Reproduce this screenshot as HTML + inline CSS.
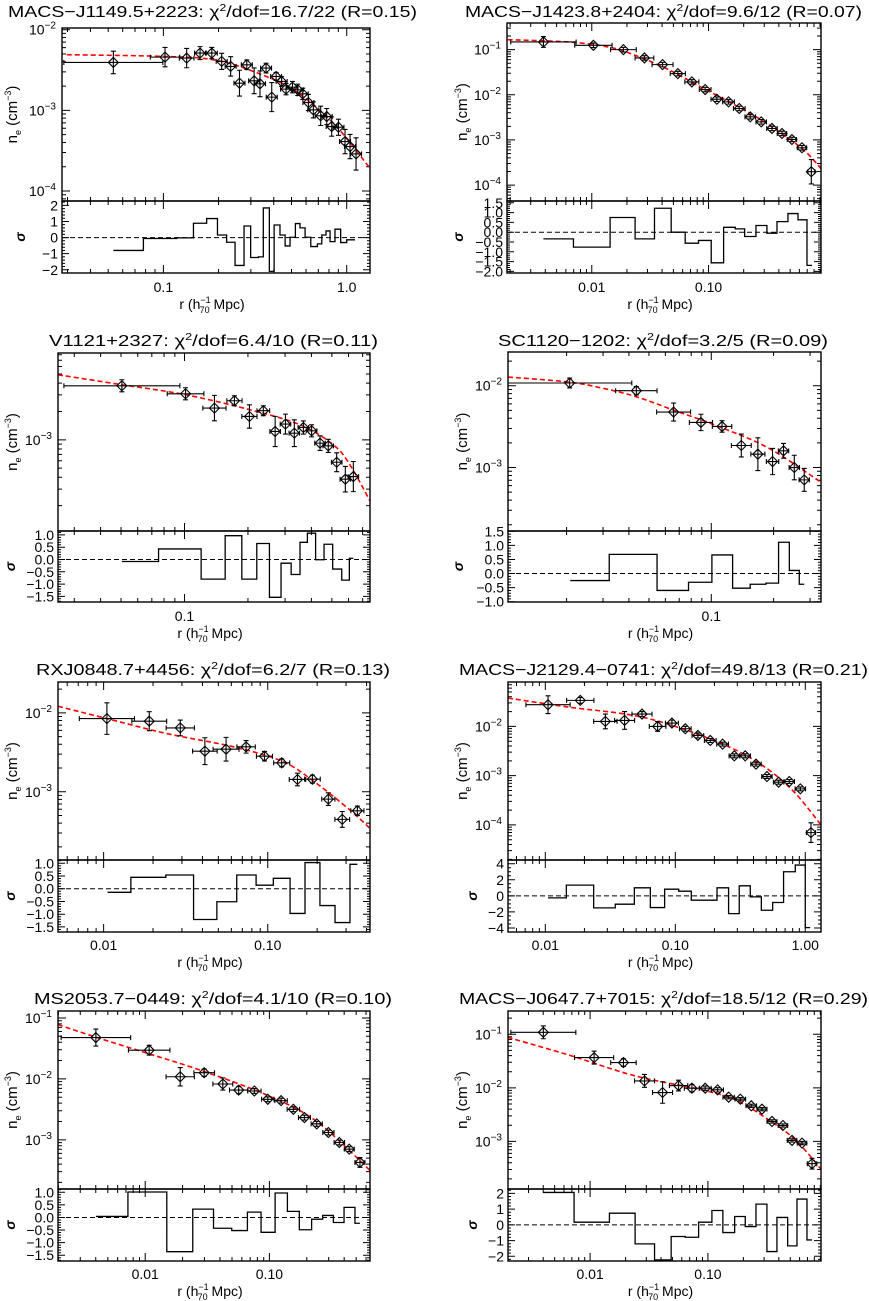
<!DOCTYPE html>
<html><head><meta charset="utf-8"><title>Density profiles</title>
<style>
html,body{margin:0;padding:0;background:#fff;}
svg{display:block;font-family:"Liberation Sans",sans-serif;}
</style></head>
<body>
<svg id="fig" width="869" height="1301" viewBox="0 0 869 1301" xmlns="http://www.w3.org/2000/svg">
<rect x="0" y="0" width="869" height="1301" fill="#fff"/>
<g font-size="16" fill="#000">
<text x="8" y="17" textLength="409" lengthAdjust="spacingAndGlyphs">MACS−J1149.5+2223: χ<tspan dy="-6" font-size="10">2</tspan><tspan dy="6">/dof=16.7/22 (R=0.15)</tspan></text>
<text x="465" y="17" textLength="397" lengthAdjust="spacingAndGlyphs">MACS−J1423.8+2404: χ<tspan dy="-6" font-size="10">2</tspan><tspan dy="6">/dof=9.6/12 (R=0.07)</tspan></text>
<text x="49" y="346" textLength="329" lengthAdjust="spacingAndGlyphs">V1121+2327: χ<tspan dy="-6" font-size="10">2</tspan><tspan dy="6">/dof=6.4/10 (R=0.11)</tspan></text>
<text x="498" y="346" textLength="330" lengthAdjust="spacingAndGlyphs">SC1120−1202: χ<tspan dy="-6" font-size="10">2</tspan><tspan dy="6">/dof=3.2/5 (R=0.09)</tspan></text>
<text x="36" y="675" textLength="354" lengthAdjust="spacingAndGlyphs">RXJ0848.7+4456: χ<tspan dy="-6" font-size="10">2</tspan><tspan dy="6">/dof=6.2/7 (R=0.13)</tspan></text>
<text x="459" y="675" textLength="409" lengthAdjust="spacingAndGlyphs">MACS−J2129.4−0741: χ<tspan dy="-6" font-size="10">2</tspan><tspan dy="6">/dof=49.8/13 (R=0.21)</tspan></text>
<text x="34" y="1004" textLength="358" lengthAdjust="spacingAndGlyphs">MS2053.7−0449: χ<tspan dy="-6" font-size="10">2</tspan><tspan dy="6">/dof=4.1/10 (R=0.10)</tspan></text>
<text x="459" y="1004" textLength="409" lengthAdjust="spacingAndGlyphs">MACS−J0647.7+7015: χ<tspan dy="-6" font-size="10">2</tspan><tspan dy="6">/dof=18.5/12 (R=0.29)</tspan></text>
</g>
</svg>
<script>
// ---------- Panel 1: MACS-J1149.5+2223 (log10 values) ----------
const p1LogR = [-1.273,-0.991,-0.873,-0.8,-0.736,-0.682,-0.633,-0.585,-0.545,-0.505,-0.473,-0.44,-0.409,-0.385,-0.355,-0.331,-0.296,-0.267,-0.24,-0.209,-0.182,-0.142,-0.109,-0.082,-0.045,-0.009,0.018,0.051];
const p1LogNe = [-2.406,-2.34,-2.352,-2.29,-2.29,-2.393,-2.455,-2.663,-2.435,-2.634,-2.671,-2.476,-2.836,-2.58,-2.642,-2.737,-2.712,-2.745,-2.795,-2.903,-2.994,-3.068,-3.077,-3.201,-3.209,-3.387,-3.449,-3.54];
const p1YErr = [0.14,0.12,0.12,0.08,0.07,0.1,0.12,0.16,0.06,0.16,0.16,0.06,0.18,0.05,0.06,0.07,0.07,0.07,0.07,0.1,0.1,0.12,0.1,0.12,0.1,0.15,0.15,0.2];
const p1XErr = [0.27,0.08,0.04,0.03,0.03,0.03,0.03,0.03,0.03,0.03,0.03,0.03,0.03,0.03,0.03,0.03,0.03,0.03,0.03,0.03,0.03,0.03,0.03,0.03,0.03,0.03,0.03,0.03];
const p1FitR = [-1.527,-1,-0.727,-0.509,-0.291,-0.073,0.127];
const p1FitNe = [-2.31,-2.331,-2.373,-2.518,-2.745,-3.159,-3.718];
const p1ResEdges = [-1.273,-1.109,-0.927,-0.836,-0.764,-0.705,-0.655,-0.609,-0.56,-0.524,-0.482,-0.455,-0.422,-0.396,-0.364,-0.336,-0.309,-0.28,-0.255,-0.227,-0.196,-0.16,-0.136,-0.113,-0.091,-0.064,-0.033,0,0.045];
const p1Sigma = [-0.8,-0.06,-0.02,0.89,1.18,0.16,-0.29,-1.73,0.72,-1.24,-1.2,1.84,-2.1,0.78,0.16,-0.52,0.02,0.87,0.6,0.02,-0.56,-0.39,0.16,0.41,-0.25,0.52,-0.31,-0.14];

// ---------- Panel 2: MACS-J1423.8+2404 ----------
const p2LogR = [-2.414,-1.986,-1.729,-1.549,-1.394,-1.263,-1.143,-1.029,-0.929,-0.829,-0.737,-0.643,-0.549,-0.457,-0.371,-0.286,-0.2,-0.12];
const p2LogNe = [-0.83,-0.904,-1.0,-1.184,-1.332,-1.531,-1.715,-1.884,-2.098,-2.157,-2.304,-2.489,-2.6,-2.746,-2.857,-2.99,-3.174,-3.704];
const p2YErr = [0.12,0.05,0.05,0.05,0.05,0.05,0.05,0.05,0.05,0.05,0.05,0.05,0.05,0.05,0.05,0.05,0.05,0.27];
const p2XErr = [0.28,0.16,0.11,0.08,0.09,0.065,0.06,0.05,0.05,0.05,0.05,0.045,0.045,0.045,0.04,0.04,0.04,0.03];
const p2FitR = [-2.72,-2.2,-1.857,-1.629,-1.343,-1.057,-0.771,-0.486,-0.2,-0.037];
const p2FitNe = [-0.779,-0.83,-0.941,-1.125,-1.442,-1.84,-2.231,-2.658,-3.189,-3.631];
const p2ResEdges = [-2.414,-2.157,-1.843,-1.629,-1.463,-1.32,-1.2,-1.086,-0.977,-0.871,-0.771,-0.691,-0.594,-0.5,-0.414,-0.32,-0.234,-0.157,-0.114];
const p2Sigma = [-0.34,-0.76,0.75,-0.34,1.22,0,-0.56,-0.42,-1.56,0.25,0.17,-0.22,0.34,-0.05,0.54,0.95,0.63,-1.69];

// ---------- Panel 3: V1121+2327 ----------
const p3LogR = [-1.297,-0.995,-0.858,-0.763,-0.692,-0.626,-0.57,-0.521,-0.479,-0.436,-0.397,-0.357,-0.318,-0.278,-0.237,-0.199];
const p3LogNe = [-2.426,-2.511,-2.663,-2.585,-2.752,-2.691,-2.911,-2.833,-2.929,-2.869,-2.904,-3.035,-3.064,-3.238,-3.418,-3.39];
const p3YErr = [0.064,0.064,0.135,0.053,0.124,0.053,0.16,0.106,0.142,0.07,0.064,0.078,0.07,0.1,0.135,0.16];
const p3XErr = [0.275,0.087,0.055,0.036,0.036,0.03,0.025,0.025,0.025,0.025,0.025,0.025,0.025,0.025,0.025,0.025];
const p3FitR = [-1.6,-1.297,-0.995,-0.689,-0.452,-0.294,-0.215,-0.12];
const p3FitNe = [-2.309,-2.415,-2.521,-2.681,-2.84,-3.053,-3.266,-3.649];
const p3ResEdges = [-1.297,-1.123,-0.921,-0.807,-0.728,-0.657,-0.597,-0.542,-0.494,-0.452,-0.417,-0.378,-0.338,-0.297,-0.254,-0.218,-0.199];
const p3Sigma = [-0.08,0.43,-0.8,0.97,-0.8,0.65,-1.54,-0.15,-0.61,0.7,1.07,-0.01,0.62,-0.39,-0.84,0.05];

// ---------- Panel 4: SC1120-1202 ----------
const p4LogR = [-1.684,-1.362,-1.182,-1.05,-0.948,-0.855,-0.775,-0.704,-0.651,-0.599,-0.551];
const p4LogNe = [-1.967,-2.061,-2.322,-2.449,-2.498,-2.731,-2.837,-2.927,-2.796,-3.0,-3.151];
const p4YErr = [0.06,0.05,0.11,0.1,0.07,0.14,0.2,0.16,0.09,0.15,0.14];
const p4XErr = [0.3,0.1,0.082,0.056,0.047,0.048,0.034,0.03,0.025,0.025,0.025];
const p4FitR = [-1.982,-1.689,-1.528,-1.367,-1.174,-0.965,-0.723,-0.47];
const p4FitNe = [-1.894,-1.955,-2.029,-2.131,-2.306,-2.498,-2.763,-3.18];
const p4ResEdges = [-1.681,-1.493,-1.262,-1.11,-0.997,-0.897,-0.812,-0.736,-0.675,-0.623,-0.575,-0.551];
const p4Sigma = [-0.25,0.68,-0.6,-0.31,0.66,-0.52,-0.38,-0.34,1.11,0.11,-0.38];

// ---------- Panel 5: RXJ0848.7+4456 ----------
const p5LogR = [-1.98,-1.722,-1.533,-1.383,-1.254,-1.132,-1.02,-0.915,-0.819,-0.728,-0.631,-0.546,-0.454];
const p5LogNe = [-2.072,-2.105,-2.19,-2.485,-2.46,-2.43,-2.549,-2.633,-2.844,-2.84,-3.093,-3.35,-3.241];
const p5YErr = [0.2,0.12,0.1,0.17,0.15,0.08,0.06,0.05,0.08,0.05,0.08,0.1,0.06];
const p5XErr = [0.168,0.106,0.086,0.075,0.079,0.056,0.049,0.049,0.05,0.048,0.04,0.045,0.04];
const p5FitR = [-2.278,-1.98,-1.615,-1.209,-0.905,-0.702,-0.499,-0.377];
const p5FitNe = [-1.916,-2.072,-2.262,-2.43,-2.62,-2.895,-3.232,-3.464];
const p5ResEdges = [-1.976,-1.834,-1.621,-1.452,-1.31,-1.189,-1.071,-0.966,-0.864,-0.773,-0.682,-0.59,-0.499,-0.454];
const p5Sigma = [-0.14,0.45,0.54,-1.21,-0.51,0.54,0.14,0.41,-0.97,1.03,-0.66,-1.33,0.96];

// ---------- Panel 6: MACS-J2129.4-0741 ----------
const p6LogR = [-1.979,-1.731,-1.538,-1.39,-1.256,-1.136,-1.026,-0.923,-0.826,-0.731,-0.636,-0.546,-0.462,-0.379,-0.295,-0.205,-0.123,-0.038,0.044];
const p6LogNe = [-1.559,-1.471,-1.898,-1.878,-1.749,-2.0,-1.932,-2.047,-2.183,-2.285,-2.359,-2.597,-2.597,-2.766,-3.017,-3.132,-3.119,-3.268,-4.156];
const p6YErr = [0.18,0.06,0.15,0.18,0.05,0.1,0.06,0.05,0.05,0.04,0.04,0.04,0.04,0.04,0.04,0.04,0.04,0.04,0.2];
const p6XErr = [0.17,0.105,0.09,0.077,0.077,0.064,0.05,0.045,0.045,0.045,0.045,0.04,0.04,0.04,0.04,0.04,0.04,0.04,0.035];
const p6FitR = [-2.287,-1.821,-1.308,-0.923,-0.538,-0.282,-0.077,0.121];
const p6FitNe = [-1.424,-1.607,-1.783,-2.068,-2.475,-2.881,-3.356,-4.0];
const p6ResEdges = [-1.979,-1.838,-1.628,-1.462,-1.315,-1.192,-1.082,-0.974,-0.877,-0.774,-0.679,-0.59,-0.508,-0.423,-0.338,-0.251,-0.167,-0.077,0,0.038];
const p6Sigma = [-0.25,1.33,-1.5,-1.04,1.0,-1.46,0.83,0.58,-0.54,-0.54,1.0,-2.21,1.25,-0.13,-1.79,-0.83,3.0,3.83,-3.96];

// ---------- Panel 7: MS2053.7-0449 ----------
const p7LogR = [-2.397,-1.968,-1.718,-1.525,-1.375,-1.247,-1.121,-1.013,-0.906,-0.807,-0.718,-0.619,-0.525,-0.437,-0.357,-0.271];
const p7LogNe = [-1.322,-1.529,-1.965,-1.899,-2.084,-2.183,-2.199,-2.335,-2.357,-2.499,-2.635,-2.738,-2.88,-3.044,-3.153,-3.371];
const p7YErr = [0.14,0.08,0.15,0.06,0.1,0.06,0.04,0.04,0.04,0.04,0.04,0.04,0.04,0.04,0.04,0.08];
const p7XErr = [0.28,0.167,0.114,0.083,0.08,0.074,0.054,0.05,0.05,0.05,0.048,0.045,0.045,0.042,0.04,0.04];
const p7FitR = [-2.702,-2.362,-1.96,-1.558,-1.021,-0.619,-0.19];
const p7FitNe = [-1.109,-1.338,-1.594,-1.856,-2.264,-2.7,-3.501];
const p7ResEdges = [-2.397,-2.139,-1.826,-1.617,-1.45,-1.303,-1.177,-1.067,-0.954,-0.855,-0.759,-0.66,-0.571,-0.485,-0.399,-0.311,-0.271];
const p7Sigma = [0.04,1.01,-1.36,0.33,-0.43,-0.52,0.21,-0.59,0.97,0.24,-0.49,-0.07,0.08,-0.2,0.4,-0.23];

// ---------- Panel 8: MACS-J0647.7+7015 ----------
const p8LogR = [-2.397,-1.966,-1.717,-1.538,-1.385,-1.249,-1.136,-1.023,-0.918,-0.824,-0.725,-0.632,-0.541,-0.456,-0.363,-0.286,-0.201,-0.116];
const p8LogNe = [-0.963,-1.435,-1.528,-1.87,-2.087,-1.957,-2.006,-2.006,-2.037,-2.174,-2.211,-2.335,-2.398,-2.627,-2.702,-2.981,-3.031,-3.416];
const p8YErr = [0.12,0.12,0.07,0.12,0.2,0.1,0.07,0.04,0.04,0.03,0.03,0.03,0.03,0.03,0.03,0.03,0.03,0.1];
const p8XErr = [0.276,0.166,0.108,0.085,0.085,0.078,0.064,0.05,0.05,0.048,0.045,0.045,0.042,0.042,0.04,0.04,0.04,0.04];
const p8FitR = [-2.7,-2.184,-1.618,-1.051,-0.768,-0.484,-0.258,-0.04];
const p8FitNe = [-1.056,-1.385,-1.776,-2.037,-2.224,-2.596,-2.969,-3.516];
const p8ResEdges = [-2.397,-2.136,-1.836,-1.618,-1.453,-1.312,-1.193,-1.079,-0.966,-0.873,-0.773,-0.683,-0.592,-0.499,-0.414,-0.323,-0.244,-0.159,-0.116];
const p8Sigma = [2.06,0.17,0.74,-1.21,-2.23,-0.74,-0.79,0.17,0.91,-0.49,0.53,-0.11,1.32,-1.7,0.47,-1.34,1.64,-0.96];

// Tick labels
const p1XTicks = [[-1,'0.1'],[0,'1.0']];
const p2XTicks = [[-2,'0.01'],[-1,'0.10']];
const p3XTicks = [[-1,'0.1']];
const p4XTicks = [[-1,'0.1']];
const p5XTicks = [[-2,'0.01'],[-1,'0.10']];
const p6XTicks = [[-2,'0.01'],[-1,'0.10'],[0,'1.00']];
const p7XTicks = [[-2,'0.01'],[-1,'0.10']];
const p8XTicks = [[-2,'0.01'],[-1,'0.10']];

const NS = 'http://www.w3.org/2000/svg';
const svg = document.getElementById('fig');

const data = [
 {r:p1LogR,n:p1LogNe,ye:p1YErr,xe:p1XErr,fr:p1FitR,fn:p1FitNe,re:p1ResEdges,s:p1Sigma,xt:p1XTicks},
 {r:p2LogR,n:p2LogNe,ye:p2YErr,xe:p2XErr,fr:p2FitR,fn:p2FitNe,re:p2ResEdges,s:p2Sigma,xt:p2XTicks},
 {r:p3LogR,n:p3LogNe,ye:p3YErr,xe:p3XErr,fr:p3FitR,fn:p3FitNe,re:p3ResEdges,s:p3Sigma,xt:p3XTicks},
 {r:p4LogR,n:p4LogNe,ye:p4YErr,xe:p4XErr,fr:p4FitR,fn:p4FitNe,re:p4ResEdges,s:p4Sigma,xt:p4XTicks},
 {r:p5LogR,n:p5LogNe,ye:p5YErr,xe:p5XErr,fr:p5FitR,fn:p5FitNe,re:p5ResEdges,s:p5Sigma,xt:p5XTicks},
 {r:p6LogR,n:p6LogNe,ye:p6YErr,xe:p6XErr,fr:p6FitR,fn:p6FitNe,re:p6ResEdges,s:p6Sigma,xt:p6XTicks},
 {r:p7LogR,n:p7LogNe,ye:p7YErr,xe:p7XErr,fr:p7FitR,fn:p7FitNe,re:p7ResEdges,s:p7Sigma,xt:p7XTicks},
 {r:p8LogR,n:p8LogNe,ye:p8YErr,xe:p8XErr,fr:p8FitR,fn:p8FitNe,re:p8ResEdges,s:p8Sigma,xt:p8XTicks}
];

const layout = [
 {L:62,R:370,T:28,M:201,B:273,xr:[-1.553,0.127],yr:[-4.124,-1.979],sr:[-2.2,2.27],yt:[-2,-3,-4],st:[2,1,0,-1,-2],dec:0,sm:0.2},
 {L:507,R:821,T:23,M:201,B:273,xr:[-2.726,-0.037],yr:[-4.353,-0.41],sr:[-2.08,1.59],yt:[-1,-2,-3,-4],st:[1.5,1,0.5,0,-0.5,-1,-1.5,-2],dec:1,sm:0.1},
 {L:58,R:370,T:353,M:531,B:602,xr:[-1.6,-0.12],yr:[-3.968,-2.078],sr:[-1.73,1.16],yt:[-3],st:[1,0.5,0,-0.5,-1,-1.5],dec:1,sm:0.1},
 {L:508,R:821,T:352,M:531,B:602,xr:[-1.982,-0.47],yr:[-3.776,-1.588],sr:[-1.01,1.51],yt:[-2,-3],st:[1.5,1,0.5,0,-0.5,-1],dec:1,sm:0.1},
 {L:58,R:370,T:682,M:860,B:932,xr:[-2.278,-0.377],yr:[-3.865,-1.608],sr:[-1.7,1.13],yt:[-2,-3],st:[1,0.5,0,-0.5,-1,-1.5],dec:1,sm:0.1},
 {L:508,R:821,T:682,M:860,B:932,xr:[-2.287,0.121],yr:[-4.712,-1.098],sr:[-4.5,4.46],yt:[-2,-3,-4],st:[4,2,0,-2,-4],dec:0,sm:0.5},
 {L:58,R:370,T:1011,M:1189,B:1261,xr:[-2.702,-0.19],yr:[-3.807,-0.886],sr:[-1.73,1.13],yt:[-1,-2,-3],st:[1,0.5,0,-0.5,-1,-1.5],dec:1,sm:0.1},
 {L:508,R:821,T:1011,M:1189,B:1261,xr:[-2.697,-0.04],yr:[-3.888,-0.565],sr:[-2.3,2.28],yt:[-1,-2,-3],st:[2,1,0,-1,-2],dec:0,sm:0.2}
];
const tickBase = [292,621,950,1279];
const labelBase = [309,638,967,1296];

function mk(tag, attrs, parent, name){
  const e = document.createElementNS(NS, tag);
  for (const k in attrs) e.setAttribute(k, attrs[k]);
  
  
  parent.appendChild(e);
  return e;
}
function tsp(parent, txt, attrs){
  const t = document.createElementNS(NS,'tspan');
  for (const k in attrs) t.setAttribute(k, attrs[k]);
  t.textContent = txt;
  parent.appendChild(t);
  return t;
}
function fmt(v, dec){
  const s = Math.abs(v).toFixed(dec);
  return (v < 0 ? '−' : '') + s;
}
function smoothPath(pts){
  let dd = `M${pts[0][0]},${pts[0][1]}`;
  for (let j = 0; j < pts.length - 1; j++) {
    const p0 = pts[Math.max(0, j-1)], p1 = pts[j], p2 = pts[j+1], p3 = pts[Math.min(pts.length-1, j+2)];
    const c1x = p1[0] + (p2[0]-p0[0])/6, c1y = p1[1] + (p2[1]-p0[1])/6;
    const c2x = p2[0] - (p3[0]-p1[0])/6, c2y = p2[1] - (p3[1]-p1[1])/6;
    dd += `C${c1x},${c1y} ${c2x},${c2y} ${p2[0]},${p2[1]}`;
  }
  return dd;
}

layout.forEach((p, i) => {
  const d = data[i];
  const row = Math.floor(i/2);
  const left = i % 2 === 0;
  const g = mk('g', {}, svg, 'panel-' + (i+1));
  const sx = v => p.L + (v - p.xr[0]) / (p.xr[1] - p.xr[0]) * (p.R - p.L);
  const sy = v => p.M - (v - p.yr[0]) / (p.yr[1] - p.yr[0]) * (p.M - p.T);
  const ss = v => p.B - (v - p.sr[0]) / (p.sr[1] - p.sr[0]) * (p.B - p.M);

  const defs = mk('defs', {}, g, 'clip-defs');
  const cp = mk('clipPath', {id:'cm'+i}, defs, 'main-clip');
  mk('rect', {x:p.L, y:p.T, width:p.R-p.L, height:p.M-p.T}, cp, 'main-clip-rect');
  const cr = mk('clipPath', {id:'cr'+i}, defs, 'resid-clip');
  mk('rect', {x:p.L, y:p.M, width:p.R-p.L, height:p.B-p.M}, cr, 'resid-clip-rect');

  const tk = mk('g', {stroke:'#000','stroke-width':1}, g, 'axis-ticks');
  let tp = '';
  for (let dec = Math.floor(p.xr[0]); dec <= Math.ceil(p.xr[1]); dec++) {
    for (let k = 1; k <= 9; k++) {
      const v = dec + Math.log10(k);
      if (v <= p.xr[0] || v >= p.xr[1]) continue;
      const x = sx(v), len = k === 1 ? 8 : 4;
      tp += `M${x},${p.T}v${len}M${x},${p.M}v${-len}M${x},${p.M}v${len}M${x},${p.B}v${-len}`;
    }
  }
  for (let dec = Math.floor(p.yr[0]); dec <= Math.ceil(p.yr[1]); dec++) {
    for (let k = 1; k <= 9; k++) {
      const v = dec + Math.log10(k);
      if (v <= p.yr[0] || v >= p.yr[1]) continue;
      const y = sy(v), len = k === 1 ? 8 : 4;
      tp += `M${p.L},${y}h${len}M${p.R},${y}h${-len}`;
    }
  }
  const step = Math.abs(p.st[0] - p.st[1]);
  for (let v = Math.ceil(p.sr[0]/p.sm)*p.sm; v <= p.sr[1]; v += p.sm) {
    const y = ss(v);
    const major = Math.abs(v/step - Math.round(v/step)) < 1e-6;
    const len = major ? 7 : 3;
    tp += `M${p.L},${y}h${len}M${p.R},${y}h${-len}`;
  }
  mk('path', {d:tp, fill:'none'}, tk, 'tick-marks');

  const fitPts = d.fr.map((v, j) => [sx(v), sy(d.fn[j])]);
  mk('path', {d:smoothPath(fitPts), fill:'none', stroke:'#f00', 'stroke-width':1.6, 'stroke-dasharray':'5,3', 'clip-path':`url(#cm${i})`}, g, 'model-fit-line');

  const pg = mk('g', {stroke:'#000', 'stroke-width':1.1, fill:'none', 'clip-path':`url(#cm${i})`}, g, 'data-points');
  d.r.forEach((v, j) => {
    const cx = sx(v), cy = sy(d.n[j]);
    const x0 = sx(v - d.xe[j]), x1 = sx(v + d.xe[j]);
    const y0 = sy(d.n[j] - d.ye[j]), y1 = sy(d.n[j] + d.ye[j]);
    const pt = mk('g', {}, pg, 'data-point');
    mk('path', {d:`M${x0},${cy}H${x1}M${x0},${cy-2.5}v5M${x1},${cy-2.5}v5M${cx},${y0}V${y1}M${cx-2.5},${y0}h5M${cx-2.5},${y1}h5`}, pt, 'error-bars');
    mk('path', {d:`M${cx-5},${cy}L${cx},${cy-5}L${cx+5},${cy}L${cx},${cy+5}Z`}, pt, 'diamond-marker');
  });

  mk('line', {x1:p.L, x2:p.R, y1:ss(0), y2:ss(0), stroke:'#000', 'stroke-width':1, 'stroke-dasharray':'5,3'}, g, 'zero-line');
  let rd = '';
  d.s.forEach((v, j) => {
    const y = ss(v);
    rd += (j ? `V${y}` : `M${sx(d.re[0])},${y}`) + `H${sx(d.re[j+1])}`;
  });
  mk('path', {d:rd, fill:'none', stroke:'#000', 'stroke-width':1.3, 'clip-path':`url(#cr${i})`}, g, 'residual-steps');

  mk('rect', {x:p.L, y:p.T, width:p.R-p.L, height:p.M-p.T, fill:'none', stroke:'#000', 'stroke-width':1.4}, g, 'main-plot-frame');
  mk('rect', {x:p.L, y:p.M, width:p.R-p.L, height:p.B-p.M, fill:'none', stroke:'#000', 'stroke-width':1.4}, g, 'residual-plot-frame');

  p.yt.forEach(e => {
    const t = mk('text', {x:p.L-6, y:sy(e)+5, 'text-anchor':'end', 'font-size':14}, g, 'y-tick-label');
    tsp(t, '10', {});
    tsp(t, '−' + Math.abs(e), {dy:-6, 'font-size':10});
  });
  p.st.forEach(v => {
    const t = mk('text', {x:p.L-4, y:ss(v)+5, 'text-anchor':'end', 'font-size':14}, g, 'sigma-tick-label');
    t.textContent = fmt(v, p.dec);
  });
  d.xt.forEach(([v, lab]) => {
    const t = mk('text', {x:sx(v), y:tickBase[row], 'text-anchor':'middle', 'font-size':14}, g, 'x-tick-label');
    t.textContent = lab;
  });
  const xl = mk('text', {x:(p.L+p.R)/2 - 4, y:labelBase[row], 'text-anchor':'middle', 'font-size':14}, g, 'x-axis-title');
  tsp(xl, 'r  (h', {});
  tsp(xl, '−1', {dy:-6, 'font-size':9});
  tsp(xl, '70', {dx:-11, dy:10, 'font-size':9});
  tsp(xl, ' Mpc)', {dy:-4});
  const yx = left ? 17 : 467, yc = (p.T + p.M) / 2;
  const yl = mk('text', {x:yx, y:yc, transform:`rotate(-90 ${yx} ${yc})`, 'text-anchor':'middle', 'font-size':15}, g, 'y-axis-title');
  tsp(yl, 'n', {});
  tsp(yl, 'e', {dy:4, 'font-size':9});
  tsp(yl, ' (cm', {dy:-4});
  tsp(yl, '−3', {dy:-6, 'font-size':9});
  tsp(yl, ')', {dy:6});
  const sxp = i === 0 ? 25 : (left ? 15 : (i === 1 || i === 3 ? 463 : 477)), sc = (p.M + p.B) / 2;
  const sl = mk('text', {x:sxp, y:sc, transform:`rotate(-90 ${sxp} ${sc})`, 'text-anchor':'middle', 'font-size':14, 'font-style':'italic', 'font-weight':'bold'}, g, 'sigma-axis-title');
  sl.textContent = 'σ';
});
</script>
</body></html>
